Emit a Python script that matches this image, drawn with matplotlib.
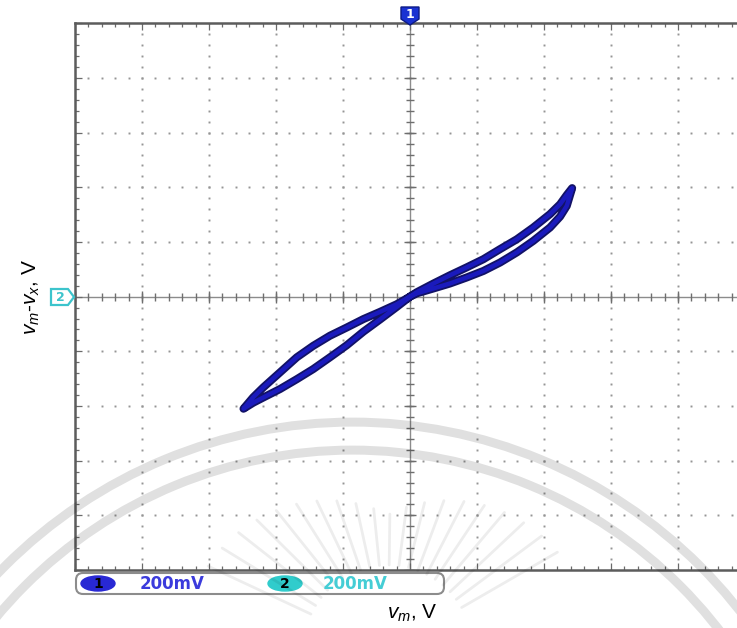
import numpy as np
import matplotlib
matplotlib.use('Agg')
import matplotlib.pyplot as plt
from matplotlib.patches import Polygon, Ellipse, FancyBboxPatch, Wedge

plt.rcParams['font.family'] = ['Liberation Sans', 'DejaVu Sans']
plt.rcParams['mathtext.fontset'] = 'custom'
plt.rcParams['mathtext.rm'] = 'Liberation Sans'
plt.rcParams['mathtext.it'] = 'Liberation Sans:italic'

# scope settings: 200 mV/div on both channels, 10 x 10 divisions
volts_per_div = 0.2
channel_names = ['1', '2']
channel_scales = ['200mV', '200mV']

# pinched loop, positive lobe (branches leave the origin, meet at the tip)
pos_vm = [0.0, 0.020, 0.070, 0.119, 0.169, 0.219, 0.269, 0.319, 0.368, 0.418, 0.448, 0.468]
pos_lower = [0.0, 0.012, 0.030, 0.048, 0.070, 0.094, 0.125, 0.162, 0.204, 0.253, 0.293, 0.332]
pos_upper = [0.0, 0.016, 0.048, 0.078, 0.107, 0.137, 0.174, 0.210, 0.253, 0.302, 0.338, 0.372]
pos_tip = (0.484, 0.397)

# negative lobe
neg_vm = [0.0, -0.040, -0.090, -0.139, -0.189, -0.239, -0.289, -0.338, -0.388, -0.438, -0.468]
neg_lower = [0.0, -0.038, -0.084, -0.128, -0.178, -0.222, -0.265, -0.302, -0.338, -0.369, -0.388]
neg_upper = [0.0, -0.028, -0.056, -0.082, -0.113, -0.143, -0.180, -0.222, -0.277, -0.332, -0.368]
neg_tip = (-0.497, -0.410)

W, H = 737, 628
fig = plt.figure(figsize=(W / 100, H / 100), dpi=100)
fig.patch.set_facecolor('white')

# screen area: 5 divisions left of centre are visible, right side runs off the image
ax = fig.add_axes([75 / W, 58 / H, 670 / W, 546.7 / H])
ax.set_xlim(-5 * volts_per_div, 5 * volts_per_div)
ax.set_ylim(-5 * volts_per_div, 5 * volts_per_div)

major = np.arange(-5, 6) * volts_per_div
minor = np.arange(-25, 26) * volts_per_div / 5

# dotted graticule
for g in major[1:-1]:
    if abs(g) < 1e-9:
        continue
    ax.plot(np.full_like(minor, g), minor, ls='none', marker='s', ms=1.4,
            color='#959595', mec='none', zorder=1)
    ax.plot(minor, np.full_like(minor, g), ls='none', marker='s', ms=1.4,
            color='#959595', mec='none', zorder=1)

# centre cross with its tick marks
ax.axhline(0, color='#8c8c8c', lw=1.0, zorder=1)
ax.axvline(0, color='#8c8c8c', lw=1.0, zorder=1)
ax.plot(minor, np.zeros_like(minor), ls='none', marker='|', ms=5.5, mew=1.0, color='#6e6e6e', zorder=1)
ax.plot(major, np.zeros_like(major), ls='none', marker='|', ms=8.5, mew=1.0, color='#6e6e6e', zorder=1)
ax.plot(np.zeros_like(minor), minor, ls='none', marker='_', ms=5.5, mew=1.0, color='#6e6e6e', zorder=1)
ax.plot(np.zeros_like(major), major, ls='none', marker='_', ms=8.5, mew=1.0, color='#6e6e6e', zorder=1)

# frame ticks
ax.set_xticks(major)
ax.set_xticks(minor, minor=True)
ax.set_yticks(major)
ax.set_yticks(minor, minor=True)
ax.tick_params(which='both', direction='in', top=True, bottom=True, left=True, right=False,
               labelbottom=False, labelleft=False, color='#6a6a6a', width=0.9)
ax.tick_params(which='major', length=5)
ax.tick_params(which='minor', length=3)
for side in ['left', 'top', 'bottom']:
    ax.spines[side].set_color('#5c5c5c')
    ax.spines[side].set_linewidth(1.8)
ax.spines['right'].set_visible(False)

# X-Y trace
loop_x = pos_vm + [pos_tip[0]] + pos_vm[::-1] + neg_vm + [neg_tip[0]] + neg_vm[::-1]
loop_y = pos_lower + [pos_tip[1]] + pos_upper[::-1] + neg_lower + [neg_tip[1]] + neg_upper[::-1]
ax.plot(loop_x, loop_y, color='#121266', lw=5.8, solid_joinstyle='round',
        solid_capstyle='round', zorder=3)
ax.plot(loop_x, loop_y, color='#1a1abc', lw=3.2, solid_joinstyle='round',
        solid_capstyle='round', zorder=4)

# overlay in pixel units for markers, readout and labels
ov = fig.add_axes([0, 0, 1, 1], zorder=5)
ov.set_xlim(0, W)
ov.set_ylim(H, 0)
ov.axis('off')
ov.patch.set_alpha(0)

# channel 1 marker (top) and channel 2 marker (left)
ov.add_patch(Polygon([(401, 7), (419, 7), (419, 19), (410, 25), (401, 19)], closed=True,
                     fc='#1a32d2', ec='#0c1a86', lw=1.0))
ov.text(410, 14.5, channel_names[0], color='white', fontsize=9, fontweight='bold',
        ha='center', va='center', family='DejaVu Sans')
ov.add_patch(Polygon([(51, 289), (68, 289), (74, 297), (68, 305), (51, 305)], closed=True,
                     fc='white', ec='#3cc4cc', lw=1.6))
ov.text(60, 297.5, channel_names[1], color='#3cc4cc', fontsize=9, fontweight='bold',
        ha='center', va='center', family='DejaVu Sans')

# channel scale readout
ov.add_patch(FancyBboxPatch((76, 573), 368, 21, boxstyle='round,pad=0,rounding_size=7',
                            fc='white', ec='#8c8c8c', lw=1.5))
ov.add_patch(Ellipse((98, 583.5), 34, 15, color='#2828d4'))
ov.text(98, 584, channel_names[0], fontsize=10, fontweight='bold', color='black',
        ha='center', va='center', family='DejaVu Sans')
ov.text(140, 584, channel_scales[0], fontsize=12, fontweight='bold', color='#3b3bdc',
        ha='left', va='center', family='DejaVu Sans')
ov.add_patch(Ellipse((285, 583.5), 34, 15, color='#30cccc'))
ov.text(285, 584, channel_names[1], fontsize=10, fontweight='bold', color='black',
        ha='center', va='center', family='DejaVu Sans')
ov.text(323, 584, channel_scales[1], fontsize=12, fontweight='bold', color='#45cdd5',
        ha='left', va='center', family='DejaVu Sans')

# axis labels
ov.text(412, 613, r'$v_m$, V', fontsize=15, ha='center', va='center')
ov.text(31, 297, r'$v_m$-$v_x$, V', fontsize=15, ha='center', va='center', rotation=90)

# faint seal in the background of the page
wm = dict(color='black', alpha=0.12, lw=0)
ov.add_patch(Wedge((352.6, 913.6), 496, 0, 360, width=9, **wm))
ov.add_patch(Wedge((352.6, 913.6), 468, 0, 360, width=9, **wm))
for ang in np.linspace(30, 155, 20):
    a = np.deg2rad(ang)
    r_out = 135 + 70 * abs(np.cos(a))
    ov.plot([388 + 85 * np.cos(a), 388 + r_out * np.cos(a)],
            [650 - 85 * np.sin(a), 650 - r_out * np.sin(a)],
            color='black', alpha=0.07, lw=2.0, solid_capstyle='round')

fig.savefig('out.png', dpi=100)
